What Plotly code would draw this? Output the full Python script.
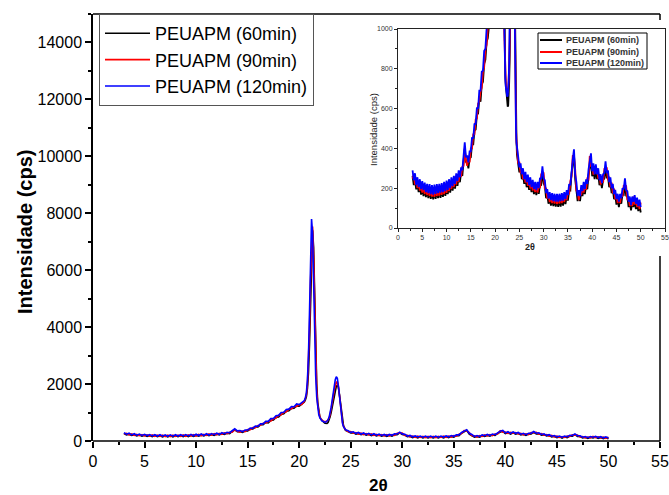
import plotly.graph_objects as go

# ---------------- data ----------------
series_names = ["PEUAPM (60min)", "PEUAPM (90min)", "PEUAPM (120min)"]
series_colors = ["#000000", "#ff0000", "#0000ff"]

x_seg1 = [3.0, 3.25, 3.5, 3.75, 4.0, 4.25, 4.5, 4.75, 5.0, 5.25, 5.5, 5.75,
          6.0, 6.25, 6.5, 6.75, 7.0, 7.25, 7.5, 7.75, 8.0, 8.25, 8.5, 8.75,
          9.0, 9.25, 9.5, 9.75, 10.0, 10.25, 10.5, 10.75, 11.0, 11.25, 11.5, 11.75,
          12.0, 12.25, 12.5, 12.75, 13.0, 13.25, 13.5, 13.75, 14.0, 14.25, 14.5, 14.75,
          15.0, 15.25, 15.5, 15.75, 16.0, 16.25, 16.5, 16.75, 17.0, 17.25, 17.5, 17.75,
          18.0, 18.25, 18.5, 18.75, 19.0, 19.25, 19.5, 19.75, 20.0, 20.25, 20.5]
x_seg2 = [20.6, 20.7, 20.8, 20.9,
          21.0, 21.1, 21.2, 21.3, 21.4, 21.5, 21.6, 21.7, 21.8, 21.9,
          22.0, 22.1, 22.2, 22.3, 22.4, 22.5, 22.6, 22.7, 22.8, 22.9,
          23.0, 23.1, 23.2, 23.3, 23.4, 23.5, 23.6, 23.7, 23.8, 23.9,
          24.0, 24.1, 24.2, 24.3, 24.4]
x_seg3 = [24.5, 24.75,
          25.0, 25.25, 25.5, 25.75, 26.0, 26.25, 26.5, 26.75, 27.0, 27.25, 27.5, 27.75,
          28.0, 28.25, 28.5, 28.75, 29.0, 29.25, 29.5, 29.75, 30.0, 30.25, 30.5, 30.75,
          31.0, 31.25, 31.5, 31.75, 32.0, 32.25, 32.5, 32.75, 33.0, 33.25, 33.5, 33.75,
          34.0, 34.25, 34.5, 34.75, 35.0, 35.25, 35.5, 35.75, 36.0, 36.25, 36.5, 36.75,
          37.0, 37.25, 37.5, 37.75, 38.0, 38.25, 38.5, 38.75, 39.0, 39.25, 39.5, 39.75,
          40.0, 40.25, 40.5, 40.75, 41.0, 41.25, 41.5, 41.75, 42.0, 42.25, 42.5, 42.75,
          43.0, 43.25, 43.5, 43.75, 44.0, 44.25, 44.5, 44.75, 45.0, 45.25, 45.5, 45.75,
          46.0, 46.25, 46.5, 46.75, 47.0, 47.25, 47.5, 47.75, 48.0, 48.25, 48.5, 48.75,
          49.0, 49.25, 49.5, 49.75, 50.0]

# 60 min (black)
y60_seg1 = [262, 216, 240, 194, 222, 180, 210, 168, 202, 160, 195, 155,
            190, 150, 186, 146, 184, 144, 185, 146, 187, 150, 190, 152,
            193, 156, 198, 162, 204, 170, 212, 178, 222, 188, 230, 198,
            244, 212, 258, 230, 278, 262, 335, 395, 330, 335, 300, 350,
            355, 420, 420, 490, 495, 570, 575, 655, 635, 720, 735, 825,
            845, 935, 955, 1045, 1065, 1145, 1155, 1230, 1225, 1300, 1370]
y60_seg2 = [1440, 1560, 1850, 2400,
            3400, 5000, 6600, 7400, 6800, 5000, 3200, 2000, 1350, 1020,
            860, 770, 720, 680, 650, 625, 610, 615, 650, 730,
            850, 1000, 1200, 1420, 1620, 1800, 1920, 1960, 1880, 1650,
            1320, 970, 700, 540, 450]
y60_seg3 = [370, 335,
            280, 295, 245, 268, 222, 250, 205, 235, 192, 222, 180, 212,
            170, 202, 165, 202, 172, 222, 218, 285, 225, 212, 150, 168,
            122, 152, 112, 146, 110, 144, 108, 144, 106, 144, 108, 146,
            112, 152, 120, 162, 138, 190, 188, 272, 318, 372, 245, 202,
            135, 162, 135, 185, 160, 200, 170, 215, 195, 265, 318, 340,
            260, 292, 245, 292, 245, 270, 215, 240, 200, 242, 248, 305,
            250, 260, 205, 225, 175, 195, 145, 165, 118, 145, 105, 145,
            122, 172, 168, 222, 162, 158, 105, 130, 88, 130, 105, 138,
            95, 125, 85, 115, 78]

# 90 min (red)
y90_seg1 = [248, 272, 218, 250, 200, 236, 188, 225, 178, 218, 170, 212,
            165, 208, 160, 205, 158, 204, 156, 206, 160, 208, 162, 210,
            166, 215, 170, 222, 176, 228, 185, 236, 195, 246, 205, 258,
            218, 270, 232, 285, 258, 308, 312, 400, 340, 312, 348, 330,
            400, 400, 470, 470, 545, 550, 625, 635, 685, 705, 785, 810,
            895, 920, 1005, 1030, 1115, 1130, 1205, 1215, 1275, 1285, 1390]
y90_seg2 = [1480, 1620, 1980, 2700,
            3900, 5600, 7000, 7530, 6500, 4500, 2800, 1800, 1250, 980,
            850, 770, 730, 705, 690, 680, 680, 695, 735, 810,
            930, 1100, 1320, 1550, 1780, 1960, 2060, 2080, 1920, 1620,
            1250, 900, 660, 520, 440]
y90_seg3 = [385, 325,
            332, 275, 298, 245, 275, 228, 262, 212, 248, 198, 236, 188,
            226, 180, 220, 178, 228, 200, 270, 275, 275, 195, 202, 148,
            175, 130, 168, 125, 165, 122, 162, 120, 162, 122, 165, 125,
            168, 130, 175, 140, 188, 170, 235, 260, 365, 360, 295, 188,
            185, 140, 188, 165, 212, 178, 222, 192, 248, 245, 362, 310,
            315, 268, 300, 275, 298, 248, 268, 218, 252, 228, 295, 292,
            305, 240, 258, 205, 228, 175, 198, 145, 168, 125, 158, 125,
            172, 158, 215, 208, 210, 140, 158, 110, 140, 110, 158, 118,
            148, 105, 135, 95, 128]

# 120 min (blue)
y120_seg1 = [290, 240, 275, 215, 255, 205, 245, 195, 235, 190, 228, 180,
             222, 175, 220, 170, 215, 168, 218, 172, 220, 175, 222, 178,
             226, 180, 232, 185, 238, 192, 245, 200, 255, 210, 262, 222,
             275, 235, 290, 255, 305, 290, 360, 430, 355, 365, 330, 385,
             385, 455, 450, 525, 520, 605, 600, 690, 690, 785, 790, 890,
             900, 1000, 1010, 1110, 1120, 1210, 1205, 1300, 1280, 1360, 1420]
y120_seg2 = [1520, 1700, 2150, 3000,
             4500, 6600, 7800, 7300, 5600, 3600, 2300, 1550, 1150, 930,
             820, 750, 710, 690, 670, 660, 665, 690, 740, 830,
             980, 1180, 1430, 1700, 1950, 2150, 2260, 2200, 1950, 1580,
             1180, 840, 620, 500, 430]
y120_seg3 = [395, 360,
             305, 325, 270, 300, 245, 282, 230, 268, 215, 255, 205, 242,
             195, 232, 190, 232, 200, 252, 245, 310, 250, 240, 175, 195,
             148, 180, 140, 175, 135, 172, 133, 172, 132, 172, 135, 175,
             138, 180, 145, 190, 165, 220, 215, 300, 345, 395, 270, 230,
             160, 190, 160, 215, 185, 232, 195, 245, 222, 295, 345, 375,
             285, 325, 270, 320, 270, 300, 240, 270, 225, 270, 275, 335,
             275, 290, 230, 255, 200, 222, 170, 192, 145, 172, 132, 172,
             150, 200, 195, 250, 190, 185, 132, 158, 115, 158, 132, 165,
             122, 152, 110, 142, 105]

two_theta = x_seg1 + x_seg2 + x_seg3
series_values = [y60_seg1 + y60_seg2 + y60_seg3,
                 y90_seg1 + y90_seg2 + y90_seg3,
                 y120_seg1 + y120_seg2 + y120_seg3]

main_x_ticks = [0, 5, 10, 15, 20, 25, 30, 35, 40, 45, 50, 55]
main_y_ticks = [0, 2000, 4000, 6000, 8000, 10000, 12000, 14000]
inset_y_ticks = [0, 200, 400, 600, 800, 1000]

# ---------------- layout geometry ----------------
W, H = 669, 495
ML, MR, MT, MB = 93, 4, 14, 54
PW, PH = W - ML - MR, H - MT - MB


def px(xp):
    return (xp - ML) / PW


def py(yp):
    return 1 - (yp - MT) / PH


X_END_PX = 660
xmax_main = 55 * PW / (X_END_PX - ML)

fig = go.Figure()

for name, color, vals in zip(series_names, series_colors, series_values):
    fig.add_trace(go.Scatter(x=two_theta, y=vals, mode="lines", name=name,
                             line=dict(color=color, width=1.6),
                             xaxis="x", yaxis="y", legend="legend"))

for name, color, vals in zip(series_names, series_colors, series_values):
    fig.add_trace(go.Scatter(x=two_theta, y=vals, mode="lines", name=name,
                             line=dict(color=color, width=1.8),
                             xaxis="x2", yaxis="y2", showlegend=False))

axis_font = dict(family="Arial, Liberation Sans, sans-serif", size=16, color="#000")
small_font = dict(family="Arial, Liberation Sans, sans-serif", size=7, color="#333")

fig.update_layout(
    width=W, height=H,
    margin=dict(l=ML, r=MR, t=MT, b=MB, autoexpand=False),
    paper_bgcolor="white", plot_bgcolor="white",
    xaxis=dict(range=[0, xmax_main], tickvals=main_x_ticks, ticks="outside",
               ticklen=6, tickwidth=1.5, tickcolor="#000", showline=False,
               showgrid=False, zeroline=False, tickfont=axis_font, automargin=False,
               minor=dict(dtick=2.5, tick0=0, ticks="outside", ticklen=3,
                          tickwidth=1.5, tickcolor="#000", showgrid=False)),
    yaxis=dict(range=[0, 15000], tickvals=main_y_ticks, tickformat="d",
               ticks="outside", ticklen=6, tickwidth=1.5, tickcolor="#000",
               showline=True, linewidth=1.5, linecolor="#000", showgrid=False,
               zeroline=False, tickfont=axis_font, automargin=False,
               minor=dict(dtick=1000, tick0=0, ticks="outside", ticklen=3,
                          tickwidth=1.5, tickcolor="#000", showgrid=False)),
    xaxis2=dict(domain=[px(398), 1.0], anchor="y2", range=[0, 55], dtick=5,
                ticks="outside", ticklen=3, tickwidth=1, tickcolor="#222",
                showline=True, linewidth=1, linecolor="#222", mirror=True,
                showgrid=False, zeroline=False, tickfont=small_font, automargin=False,
                minor=dict(dtick=2.5, tick0=0, ticks="outside", ticklen=2,
                           tickwidth=1, tickcolor="#222", showgrid=False)),
    yaxis2=dict(domain=[py(228), py(29)], anchor="x2", range=[0, 1000],
                tickvals=inset_y_ticks, ticks="outside", ticklen=3, tickwidth=1,
                tickcolor="#222", showline=True, linewidth=1, linecolor="#222",
                mirror=True, showgrid=False, zeroline=False, tickfont=small_font,
                automargin=False,
                minor=dict(dtick=100, tick0=0, ticks="outside", ticklen=2,
                           tickwidth=1, tickcolor="#222", showgrid=False)),
    legend=dict(x=px(99), y=py(14), xanchor="left", yanchor="top",
                bgcolor="white", bordercolor="#555", borderwidth=1,
                itemwidth=45,
                font=dict(family="Arial, Liberation Sans, sans-serif", size=18, color="#000"),
                tracegroupgap=0),
    showlegend=True,
)

shapes = [
    # main frame: bottom, top and visible right segments
    dict(type="line", xref="x", yref="paper", x0=0, x1=55, y0=0, y1=0,
         line=dict(color="#000", width=1.5)),
    dict(type="line", xref="x", yref="paper", x0=0, x1=55, y0=1, y1=1,
         line=dict(color="#000", width=1.5)),
    dict(type="line", xref="x", yref="paper", x0=55, x1=55, y0=0, y1=py(256),
         line=dict(color="#000", width=1.5)),
    dict(type="line", xref="x", yref="paper", x0=55, x1=55, y0=py(20), y1=1,
         line=dict(color="#000", width=1.5)),
    # inset legend box
    dict(type="rect", xref="paper", yref="paper", x0=px(538), x1=px(647),
         y0=py(69), y1=py(33), line=dict(color="#000", width=1), fillcolor="white"),
]
annotations = [
    dict(text="<b>Intensidade (cps)</b>", textangle=-90, xref="paper", yref="paper",
         x=px(25), y=py(232), xanchor="center", yanchor="middle", showarrow=False,
         font=dict(family="Arial, Liberation Sans, sans-serif", size=20, color="#000")),
    dict(text="<b>2θ</b>", xref="paper", yref="paper", x=px(378), y=py(486),
         xanchor="center", yanchor="middle", showarrow=False,
         font=dict(family="Arial, Liberation Sans, sans-serif", size=17, color="#000")),
    dict(text="Intensidade (cps)", textangle=-90, xref="paper", yref="paper",
         x=px(373), y=py(130), xanchor="center", yanchor="middle", showarrow=False,
         font=dict(family="Arial, Liberation Sans, sans-serif", size=9.5, color="#222")),
    dict(text="<b>2θ</b>", xref="paper", yref="paper", x=px(530), y=py(247),
         xanchor="center", yanchor="middle", showarrow=False,
         font=dict(family="Arial, Liberation Sans, sans-serif", size=9, color="#222")),
]
row_y = [40, 52, 63]
for name, color, ry in zip(series_names, series_colors, row_y):
    shapes.append(dict(type="line", xref="paper", yref="paper", x0=px(540), x1=px(562),
                       y0=py(ry), y1=py(ry), line=dict(color=color, width=2)))
    annotations.append(dict(text="<b>" + name + "</b>", xref="paper", yref="paper",
                            x=px(564), y=py(ry), xanchor="left", yanchor="middle",
                            showarrow=False,
                            font=dict(family="Arial, Liberation Sans, sans-serif",
                                      size=9, color="#333")))

fig.update_layout(shapes=shapes, annotations=annotations)

fig.write_html("out.html",
               config={"displayModeBar": False},
               post_script="document.body.style.margin='0px';document.body.style.overflow='hidden';")
